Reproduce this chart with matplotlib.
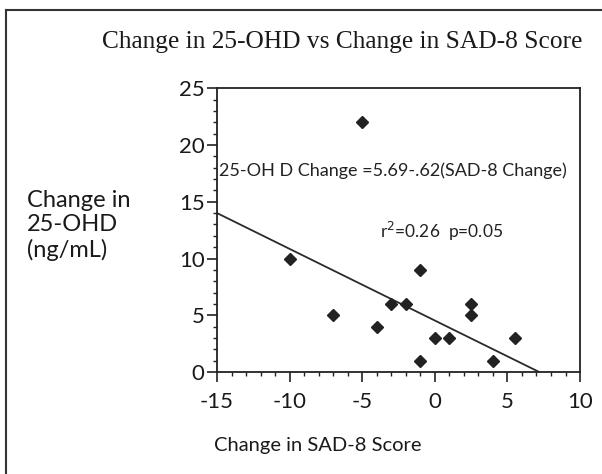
import numpy as np
import matplotlib.pyplot as plt
from matplotlib.ticker import MultipleLocator, FuncFormatter
from matplotlib.lines import Line2D

# data
sad8_change = [-10, -7, -5, -4, -3, -2, -1, -1, 0, 1, 2.5, 2.5, 4, 5.5]
ohd_change = [10, 5, 22, 4, 6, 6, 9, 1, 3, 3, 6, 5, 1, 3]
fit_x = [-15, 7.2]
fit_y = [14, 0]

TITLE = "Change in 25-OHD vs Change in SAD-8 Score"
EQ_TEXT = "25-OH D Change =5.69-.62(SAD-8 Change)"
STAT_TEXT = "r$^2$=0.26  p=0.05"
SANS = "Lato"

fig = plt.figure(figsize=(6.02, 4.74), dpi=100)
ax = fig.add_axes([0.3605, 0.215, 0.603, 0.599])

ax.plot(fit_x, fit_y, color="#2a2a2a", lw=1.3)
ax.plot(sad8_change, ohd_change, "D", color="#222222", ms=6.5, mec="#222222")

ax.set_xlim(-15, 10)
ax.set_ylim(0, 25)
ax.xaxis.set_major_locator(MultipleLocator(5))
ax.xaxis.set_minor_locator(MultipleLocator(1))
ax.yaxis.set_major_locator(MultipleLocator(5))
ax.yaxis.set_minor_locator(MultipleLocator(1))
# plain hyphen instead of unicode minus
fmt = FuncFormatter(lambda v, p: "%d" % v)
ax.xaxis.set_major_formatter(fmt)
ax.yaxis.set_major_formatter(fmt)
ax.tick_params(which="major", direction="out", length=7, width=1.2, color="#222222",
               labelsize=16, labelcolor="#1a1a1a")
ax.tick_params(axis="x", which="major", pad=7)
ax.tick_params(axis="y", which="major", pad=2)
ax.tick_params(which="minor", direction="out", length=3, width=1, color="#222222")
for lab in ax.get_xticklabels() + ax.get_yticklabels():
    lab.set_family(SANS)
for s in ax.spines.values():
    s.set_linewidth(1.3)
    s.set_color("#222222")

ax.text(-14.85, 17.7, EQ_TEXT, fontsize=13, family=SANS, va="center", ha="left", color="#222222")
ax.text(-3.77, 12.4, STAT_TEXT, fontsize=12.5, family=SANS, va="center", ha="left", color="#222222")

fig.text(0.568, 0.912, TITLE, fontsize=18.3, family="Liberation Serif", ha="center", va="center",
         color="#1a1a1a")
fig.text(0.528, 0.06, "Change in SAD-8 Score", fontsize=14.5, family=SANS, ha="center",
         va="center", color="#1a1a1a")
fig.text(0.045, 0.525, "Change in\n25-OHD\n(ng/mL)", fontsize=17, family=SANS, ha="left",
         va="center", linespacing=1.2, color="#1a1a1a")

# outer frame (left and top edges of the scanned box)
fig.add_artist(Line2D([0.01, 0.01], [0.0, 0.979], transform=fig.transFigure, color="#333333", lw=1.5))
fig.add_artist(Line2D([0.01, 1.0], [0.979, 0.979], transform=fig.transFigure, color="#333333", lw=1.5))

fig.savefig("out.png", dpi=100)
